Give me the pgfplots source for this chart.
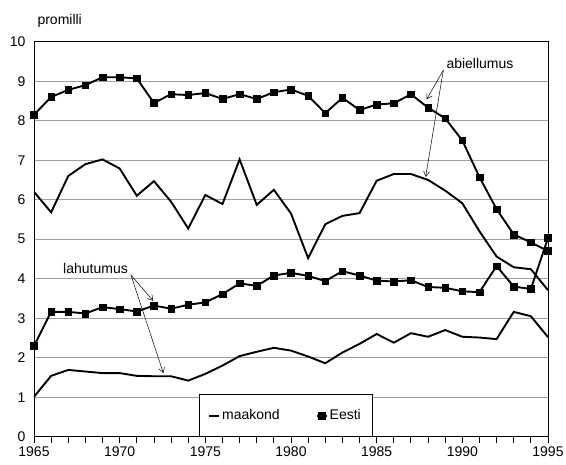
\documentclass[border=0pt]{standalone}
\usepackage{fontspec}
\setmainfont{Liberation Sans}
\usepackage{pgfplots}
\pgfplotsset{compat=1.18}
\usetikzlibrary{arrows.meta}
\begin{document}
\begin{tikzpicture}
\begin{axis}[
  name=ax,
  scale only axis, width=514pt, height=395pt,
  xmin=1965, xmax=1995, ymin=0, ymax=10,
  xtick={1965,1970,...,1995}, minor xtick={1965,...,1995},
  ytick={0,...,10},
  ymajorgrids, major grid style={gray!75, line width=0.6pt},
  axis line style={line width=0.8pt},
  tick align=outside, xtick pos=left,
  ytick style={draw=none},
  major tick length=6pt, minor tick length=6pt,
  xtick style={black, line width=0.8pt},
  font=\fontsize{14}{16}\selectfont,
  ticklabel style={font=\fontsize{14}{16}\selectfont},
  yticklabel style={xshift=1pt},
  /pgf/number format/1000 sep={},
  /pgf/number format/assume math mode=true,
  legend columns=2, legend cell align=left,
  legend style={at={(0.321,0)}, anchor=south west, draw=black, line width=0.6pt,
    fill=white, inner xsep=9pt, inner ysep=13pt, font=\fontsize{14}{16}\selectfont,
    /tikz/every even column/.append style={column sep=34pt}},
  legend image code/.code={\draw[mark repeat=2,mark phase=2,#1] plot coordinates {(0pt,0pt) (5pt,0pt) (10pt,0pt)};},
]
% maakond abiellumus
\addplot[black, line width=1.9pt, mark=none] coordinates {
(1965,6.20) (1966,5.68) (1967,6.60) (1968,6.90) (1969,7.02) (1970,6.79)
(1971,6.10) (1972,6.47) (1973,5.95) (1974,5.27) (1975,6.12) (1976,5.89)
(1977,7.02) (1978,5.87) (1979,6.25) (1980,5.65) (1981,4.52) (1982,5.38)
(1983,5.59) (1984,5.66) (1985,6.48) (1986,6.65) (1987,6.65) (1988,6.50)
(1989,6.23) (1990,5.91) (1991,5.20) (1992,4.56) (1993,4.29) (1994,4.24)
(1995,3.71)};
\addlegendentry{maakond}
% Eesti abiellumus
\addplot[black, line width=1.9pt, mark=square*, mark size=3.3pt, mark options={line width=0.5pt}] coordinates {
(1965,8.15) (1966,8.60) (1967,8.78) (1968,8.90) (1969,9.10) (1970,9.10)
(1971,9.07) (1972,8.45) (1973,8.67) (1974,8.65) (1975,8.70) (1976,8.55)
(1977,8.67) (1978,8.55) (1979,8.72) (1980,8.79) (1981,8.63) (1982,8.19)
(1983,8.58) (1984,8.27) (1985,8.41) (1986,8.44) (1987,8.67) (1988,8.33)
(1989,8.06) (1990,7.50) (1991,6.57) (1992,5.76) (1993,5.12) (1994,4.92)
(1995,4.70)};
\addlegendentry{Eesti}
% maakond lahutumus
\addplot[black, line width=1.9pt, mark=none, forget plot] coordinates {
(1965,1.01) (1966,1.54) (1967,1.69) (1968,1.65) (1969,1.61) (1970,1.61)
(1971,1.54) (1972,1.53) (1973,1.53) (1974,1.42) (1975,1.59) (1976,1.80)
(1977,2.04) (1978,2.15) (1979,2.25) (1980,2.18) (1981,2.03) (1982,1.86)
(1983,2.13) (1984,2.35) (1985,2.60) (1986,2.38) (1987,2.62) (1988,2.53)
(1989,2.70) (1990,2.53) (1991,2.51) (1992,2.47) (1993,3.16) (1994,3.05)
(1995,2.52)};
% Eesti lahutumus
\addplot[black, line width=1.9pt, mark=square*, mark size=3.3pt, mark options={line width=0.5pt}, forget plot] coordinates {
(1965,2.30) (1966,3.16) (1967,3.16) (1968,3.12) (1969,3.28) (1970,3.23)
(1971,3.17) (1972,3.32) (1973,3.24) (1974,3.34) (1975,3.40) (1976,3.61)
(1977,3.88) (1978,3.82) (1979,4.08) (1980,4.15) (1981,4.07) (1982,3.94)
(1983,4.19) (1984,4.08) (1985,3.95) (1986,3.93) (1987,3.96) (1988,3.79)
(1989,3.77) (1990,3.68) (1991,3.66) (1992,4.32) (1993,3.80) (1994,3.74)
(1995,5.03)};
% annotations
\node[font=\fontsize{14}{16}\selectfont] at (axis cs:1991.03,9.46) {abiellumus};
\draw[-{Straight Barb[length=5pt,width=6pt]}, line width=0.5pt] (axis cs:1988.89,9.28) -- (axis cs:1987.92,8.54);
\draw[-{Straight Barb[length=5pt,width=6pt]}, line width=0.5pt] (axis cs:1988.89,9.28) -- (axis cs:1987.86,6.58);
\node[font=\fontsize{14}{16}\selectfont] at (axis cs:1968.59,4.26) {lahutumus};
\draw[-{Straight Barb[length=5pt,width=6pt]}, line width=0.5pt] (axis cs:1970.66,4.09) -- (axis cs:1971.96,3.44);
\draw[-{Straight Barb[length=5pt,width=6pt]}, line width=0.5pt] (axis cs:1970.66,4.09) -- (axis cs:1972.55,1.61);
\end{axis}
\node[anchor=base west, font=\fontsize{14}{16}\selectfont] at ([yshift=16.7pt]ax.north west) {promilli};
\pgfresetboundingbox
\path[use as bounding box] (-34pt,-28.3pt) rectangle (532pt,436.7pt);
\end{tikzpicture}
\end{document}
